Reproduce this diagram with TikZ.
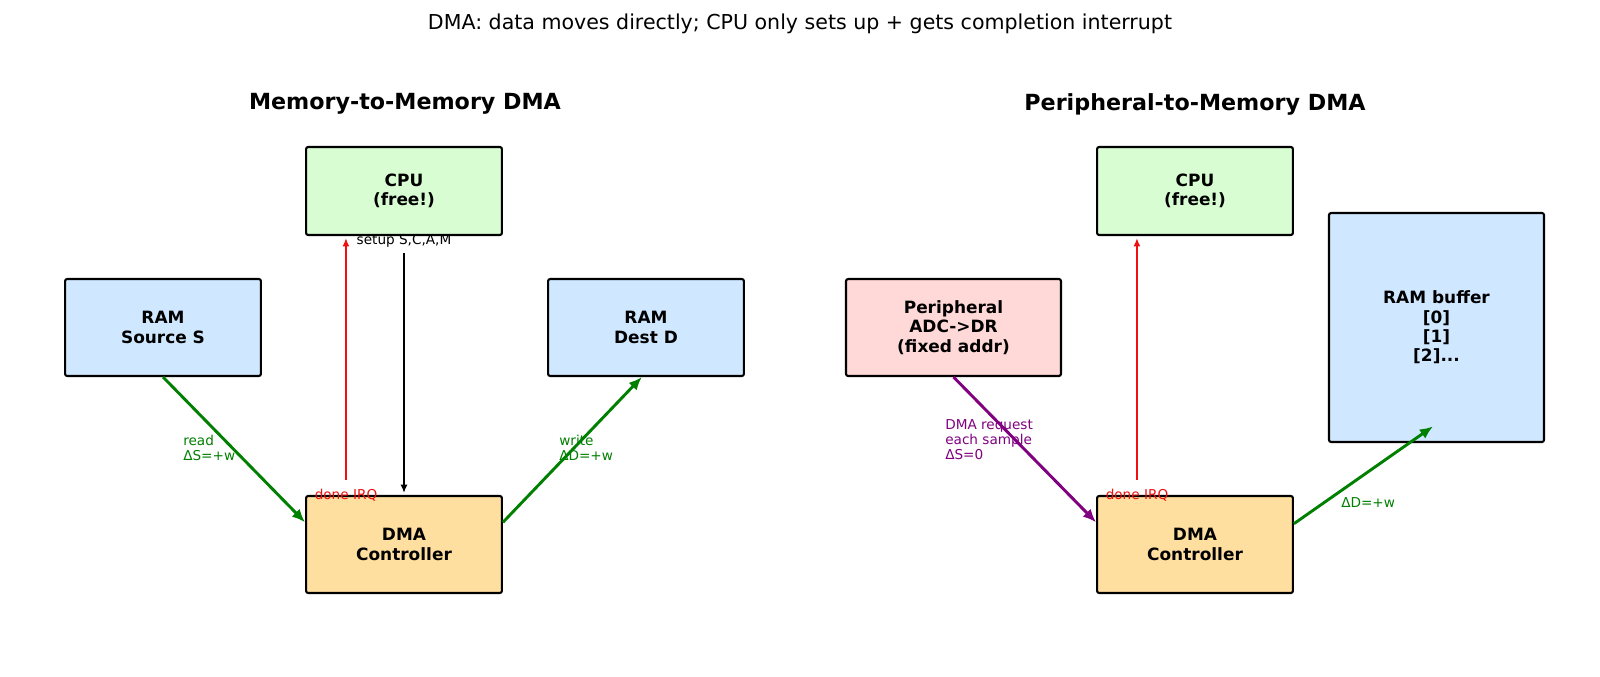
\documentclass[tikz,border=0pt]{standalone}
\usepackage{fontspec}
\setmainfont{DejaVu Sans}
\usetikzlibrary{arrows.meta}
\definecolor{cpugreen}{HTML}{D8FDD2}
\definecolor{ramblue}{HTML}{D0E8FF}
\definecolor{dmaorange}{HTML}{FFDFA0}
\definecolor{perpink}{HTML}{FFD8D8}
\definecolor{flowgreen}{HTML}{008000}
\definecolor{reqpurple}{HTML}{800080}
\definecolor{irqred}{HTML}{F01010}

\begin{document}
\begin{tikzpicture}[
    x=0.72pt, y=-0.72pt,
    blk/.style={rectangle, rounded corners=1.5pt, draw=black, line width=1.5pt,
                minimum width=141pt, minimum height=69.8pt, inner sep=0pt,
                align=center, font=\fontsize{12.2}{14}\selectfont\bfseries},
    head/.style={font=\fontsize{16}{19}\selectfont\bfseries},
    lbl/.style={font=\fontsize{9.8}{10.8}\selectfont, inner sep=0pt, align=left},
    flow/.style={-{Latex[length=9.5pt, width=8pt]}, line width=2.1pt, draw=flowgreen},
    thin/.style={-{Latex[length=6pt, width=5pt]}, line width=1.3pt}
  ]
    \useasboundingbox[fill=white] (0,0) rectangle (1600,677);
    \node[font=\fontsize{14.8}{18}\selectfont] (title) at (800,24)
      {DMA: data moves directly; CPU only sets up + gets completion interrupt};

    % memory-to-memory
    \node[head] (headA) at (405,104) {Memory-to-Memory DMA};
    \node[blk, fill=cpugreen, minimum height=63.4pt] (cpuA) at (404,191) {CPU\\(free!)};
    \node[blk, fill=ramblue] (srcA) at (163,327.5) {RAM\\Source S};
    \node[blk, fill=ramblue] (dstA) at (646,327.5) {RAM\\Dest D};
    \node[blk, fill=dmaorange] (dmaA) at (404,544.5) {DMA\\Controller};
    \draw[flow] (srcA.south) -- ([yshift=16pt]dmaA.west);
    \draw[flow] ([yshift=16pt]dmaA.east) -- ([xshift=-3pt]dstA.south);
    \draw[thin, draw=irqred] ([xshift=-41.8pt, yshift=10.8pt]dmaA.north) -- ([xshift=-41.8pt, yshift=-1.4pt]cpuA.south);
    \draw[thin, draw=black] ([yshift=-12.2pt]cpuA.south) -- ([yshift=1.4pt]dmaA.north);
    \node[lbl, text=flowgreen, anchor=west] (readA) at (183,448) {read\\ΔS=+w};
    \node[lbl, text=flowgreen, anchor=west] (writeA) at (559,448) {write\\ΔD=+w};
    \node[lbl] (setupA) at (404,240.5) {setup S,C,A,M};
    \node[lbl, text=irqred] (irqA) at (346,495.5) {done IRQ};

    % peripheral-to-memory
    \node[head] (headB) at (1195,104) {Peripheral-to-Memory DMA};
    \node[blk, fill=cpugreen, minimum height=63.4pt] (cpuB) at (1195,191) {CPU\\(free!)};
    \node[blk, fill=perpink, minimum width=154.8pt] (perB) at (953.5,327.5) {Peripheral\\ADC->DR\\(fixed addr)};
    \node[blk, fill=ramblue, minimum width=154.8pt, minimum height=164.9pt] (bufB) at (1436.5,327.5) {RAM buffer\\{[0]}\\{[1]}\\{[2]...}};
    \node[blk, fill=dmaorange] (dmaB) at (1195,544.5) {DMA\\Controller};
    \draw[flow, draw=reqpurple] (perB.south) -- ([yshift=16pt]dmaB.west);
    \draw[flow] ([yshift=15pt]dmaB.east) -- ([xshift=-2.5pt, yshift=12pt]bufB.south);
    \draw[thin, draw=irqred] ([xshift=-41.8pt, yshift=10.8pt]dmaB.north) -- ([xshift=-41.8pt, yshift=-1.4pt]cpuB.south);
    \node[lbl, text=reqpurple, anchor=west] (reqB) at (945,440) {DMA request\\each sample\\ΔS=0};
    \node[lbl, text=flowgreen, anchor=west] (incB) at (1341,503) {ΔD=+w};
    \node[lbl, text=irqred] (irqB) at (1137,495.5) {done IRQ};
  \end{tikzpicture}
\end{document}
